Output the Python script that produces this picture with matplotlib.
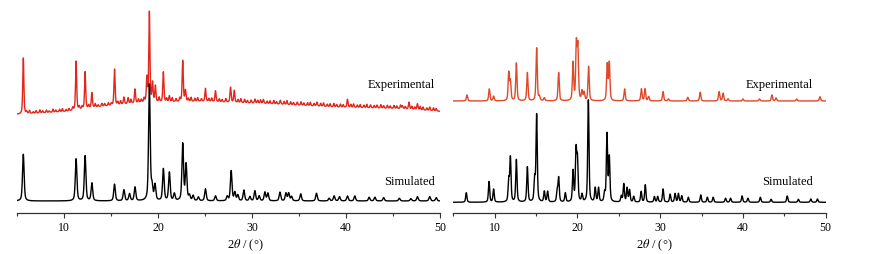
import numpy as np
import matplotlib
matplotlib.use("Agg")
import matplotlib.pyplot as plt
from matplotlib.ticker import MultipleLocator

plt.rcParams['font.family'] = ['Liberation Serif', 'DejaVu Serif']
plt.rcParams['mathtext.fontset'] = 'stix'

# ---------------- data (2theta in degrees, intensity in arbitrary units) ----------------
# Left panel, simulated pattern
L_sim_pos = [5.64, 11.26, 12.22, 12.94, 15.35, 16.35, 16.95, 17.53, 19.06, 19.34, 19.66,
             20.55, 21.19, 21.72, 22.61, 22.97, 23.33, 23.72, 24.28, 25.03, 26.1, 27.35,
             27.77, 28.16, 28.48, 29.12, 29.76, 30.29, 30.75, 31.36, 31.68, 32.96, 33.6,
             33.89, 34.2, 35.17, 36.85, 38.2, 38.73, 39.3, 40.15, 40.93, 42.46, 43.07,
             44.0, 45.67, 46.9, 47.6, 48.9, 49.6]
L_sim_amp = [46.7, 42.0, 45.0, 17.7, 16.7, 11.0, 7.0, 13.7, 116.0, 13.0, 15.3,
             31.7, 28.3, 7.0, 56.7, 36.0, 5.0, 5.0, 3.7, 12.0, 5.0, 4.3,
             30.0, 8.3, 5.7, 10.7, 4.3, 10.0, 5.0, 8.7, 7.7, 8.7, 7.7,
             7.7, 4.3, 7.0, 7.7, 2.7, 5.0, 4.3, 5.0, 5.0, 3.7, 3.7,
             3.3, 2.7, 2.3, 4.3, 4.3, 3.3]
L_sim_base = 11.7

# Left panel, experimental pattern
L_exp_pos = [5.64, 11.26, 12.22, 12.94, 15.35, 16.35, 16.8, 17.53, 18.8, 19.06, 19.4,
             19.7, 20.55, 21.19, 22.61, 22.9, 25.03, 26.1, 27.7, 28.1, 30.3, 31.2,
             33.0, 36.9, 40.15, 42.6, 46.0, 46.7, 47.6]
L_exp_amp = [56.0, 49.0, 37.0, 15.0, 36.0, 7.0, 6.0, 14.0, 24.0, 90.0, 19.0,
             16.0, 30.0, 6.0, 41.0, 11.0, 13.0, 11.0, 15.0, 12.0, 4.0, 4.0,
             4.0, 4.0, 8.0, 3.0, 3.0, 7.0, 6.0]
# small ripples (noise-like features)
L_exp_small_pos = [6.0, 6.3, 6.7, 7.0, 7.4, 7.7, 8.1, 8.4, 8.8, 9.1, 9.5, 9.8, 10.2, 10.5,
                   10.9, 11.6, 11.9, 12.6, 13.3, 13.6, 14.0, 14.3, 14.7, 15.0, 15.7, 16.0,
                   17.1, 17.9, 18.2, 18.5, 20.1, 20.9, 21.5, 21.9, 22.3, 23.2, 23.5, 23.9,
                   24.2, 24.6, 25.4, 25.7, 26.5, 26.8, 27.2, 28.5, 28.8, 29.2, 29.5, 29.9,
                   30.6, 30.9, 31.6, 31.9, 32.3, 32.6, 33.4, 33.7, 34.1, 34.4, 34.8, 35.2,
                   35.5, 35.9, 36.2, 36.6, 37.3, 37.6, 38.0, 38.3, 38.7, 39.0, 39.4, 39.7,
                   40.5, 40.8, 41.2, 41.5, 41.9, 42.2, 43.0, 43.3, 43.7, 44.0, 44.4, 44.7,
                   45.1, 45.4, 45.8, 46.3, 47.0, 47.3, 47.9, 48.2, 48.6, 48.9, 49.3, 49.6]
L_exp_small_amp = [2.0, 3.0, 1.5, 2.5, 3.0, 2.0, 2.5, 1.5, 3.0, 2.0, 2.5, 3.0, 2.0, 2.5,
                   3.0, 3.0, 2.5, 3.0, 3.5, 2.0, 3.0, 2.5, 3.0, 2.0, 3.0, 3.5,
                   4.0, 3.5, 3.0, 4.0, 4.5, 3.5, 4.0, 3.0, 3.5, 3.0, 4.0, 3.0,
                   3.5, 2.5, 3.0, 3.5, 3.0, 2.5, 3.5, 3.0, 4.0, 3.5, 2.5, 3.0,
                   3.0, 3.5, 2.5, 3.0, 3.5, 2.5, 3.0, 4.0, 3.0, 2.5, 3.0, 3.5,
                   2.5, 3.0, 3.5, 2.5, 3.0, 3.5, 2.5, 3.0, 3.5, 2.5, 3.0, 2.5,
                   3.0, 3.5, 2.5, 3.0, 2.5, 3.5, 2.5, 3.0, 3.5, 2.5, 3.0, 2.5,
                   3.0, 2.5, 3.5, 2.5, 3.0, 2.5, 3.5, 3.0, 2.5, 3.5, 3.0, 2.5]
L_exp_base_x = [5.0, 10.3, 13.8, 18.1, 24.5, 31.6, 38.7, 45.8, 50.0]
L_exp_base_y = [98.4, 101.2, 106.0, 110.0, 111.4, 109.0, 105.7, 104.0, 101.4]

# Right panel, simulated pattern
R_sim_pos = [6.57, 9.32, 9.87, 11.7, 11.9, 12.62, 13.95, 14.83, 15.07, 16.0, 16.4, 17.55,
             17.73, 18.54, 19.47, 19.83, 20.0, 20.56, 21.32, 22.15, 22.55, 23.28, 23.57,
             23.85, 25.3, 25.6, 26.0, 26.3, 26.8, 27.7, 28.2, 29.3, 29.7, 30.35, 31.2,
             31.8, 32.2, 32.6, 33.4, 34.9, 35.7, 36.4, 37.9, 38.5, 39.9, 40.6, 42.1,
             43.4, 45.35, 46.7, 48.2, 49.0]
R_sim_amp = [9.6, 20.6, 13.0, 21.3, 44.0, 42.3, 35.0, 22.3, 87.0, 10.6, 10.6, 10.6,
             24.0, 9.0, 30.6, 50.0, 40.6, 7.3, 102.0, 14.0, 14.0, 8.3, 67.3,
             44.0, 6.0, 18.0, 14.0, 12.0, 5.6, 10.6, 17.3, 5.6, 5.6, 13.3, 8.0,
             8.6, 8.6, 6.3, 5.0, 7.3, 5.0, 5.0, 4.0, 4.0, 6.3, 4.0, 5.0,
             3.0, 6.3, 3.0, 3.3, 3.3]
R_sim_base = 10.4

# Right panel, experimental pattern
R_exp_pos = [6.65, 9.35, 9.87, 11.7, 11.9, 12.62, 13.95, 15.07, 15.4, 16.0, 17.73, 19.47,
             19.87, 20.05, 20.55, 20.8, 21.35, 23.6, 23.85, 25.7, 27.73, 28.17, 28.6,
             30.35, 31.0, 33.33, 34.83, 37.12, 37.6, 38.2, 40.0, 42.0, 43.5, 44.0,
             46.5, 49.3]
R_exp_amp = [6.0, 12.0, 4.7, 27.7, 19.0, 37.7, 28.3, 53.0, 4.0, 3.0, 28.3, 37.7,
             55.0, 52.0, 9.3, 8.0, 34.3, 36.0, 37.7, 12.0, 12.0, 12.0, 4.3,
             9.3, 2.0, 3.7, 8.7, 9.3, 7.7, 2.0, 2.0, 2.0, 6.0, 3.0,
             2.0, 4.3]
R_exp_base = 111.7

# ---------------- rendering ----------------
tt = np.linspace(5.0, 50.0, 6000)


def pattern(pos, amp, hw, base):
    y = np.zeros_like(tt) + base
    for c, a in zip(pos, amp):
        d = (tt - c) / hw
        y += a * (0.5 / (1 + d ** 2) + 0.5 * np.exp(-np.log(2) * d ** 2))
    return y


L_sim = pattern(L_sim_pos, L_sim_amp, 0.1, L_sim_base)
L_exp = pattern(L_exp_pos, L_exp_amp, 0.07, 0.0) \
    + pattern(L_exp_small_pos, L_exp_small_amp, 0.06, 0.0) \
    + np.interp(tt, L_exp_base_x, L_exp_base_y)
R_sim = pattern(R_sim_pos, R_sim_amp, 0.09, R_sim_base)
R_exp = pattern(R_exp_pos, R_exp_amp, 0.09, R_exp_base)

W, H = 878, 254
fig = plt.figure(figsize=(W / 100, H / 100), dpi=100)
axL = fig.add_axes([17.3 / W, (H - 212.7) / H, (440.0 - 17.3) / W, 212.7 / H])
axR = fig.add_axes([453.3 / W, (H - 212.7) / H, (825.7 - 453.3) / W, 212.7 / H])

axL.plot(tt, L_exp, color='#e3261c', lw=1.0)
axL.plot(tt, L_sim, color='black', lw=1.0)
axR.plot(tt, R_exp, color='#e0482a', lw=1.0)
axR.plot(tt, R_sim, color='black', lw=1.0)

for ax, xe in ((axL, 49.5), (axR, 48.4)):
    ax.set_xlim(5, 50)
    ax.set_ylim(0, 212.7)
    for s in ('top', 'left', 'right'):
        ax.spines[s].set_visible(False)
    ax.spines['bottom'].set_color('#333333')
    ax.spines['bottom'].set_linewidth(0.9)
    ax.set_yticks([])
    ax.xaxis.set_major_locator(MultipleLocator(10))
    ax.xaxis.set_minor_locator(MultipleLocator(5))
    ax.tick_params(axis='x', which='major', direction='out', length=3.5, width=0.8,
                   labelsize=8.5, pad=3.5, color='#333333')
    ax.tick_params(axis='x', which='minor', direction='out', length=2.5, width=0.8,
                   color='#333333')
    ax.patch.set_alpha(0)
    ax.text(xe, 212.7 - 85, 'Experimental', ha='right', va='center', fontsize=9)
    ax.text(xe, 212.7 - 182, 'Simulated', ha='right', va='center', fontsize=9)
    ax.set_xlabel(r'2$\mathit{\theta}$ / (°)', fontsize=9)
    ax.xaxis.set_label_coords(0.54, -0.118)

fig.savefig('out.png', dpi=100)
